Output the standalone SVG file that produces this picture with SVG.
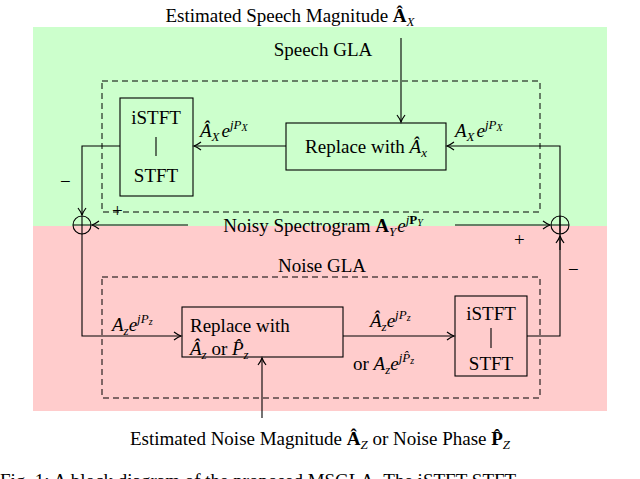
<svg xmlns="http://www.w3.org/2000/svg" width="640" height="479" viewBox="0 0 640 479">
<defs>
<marker id="ah" markerWidth="10" markerHeight="10" refX="8" refY="5" orient="auto" markerUnits="userSpaceOnUse">
<path d="M1,1 Q5,4 8,5 Q5,6 1,9" fill="none" stroke="#000" stroke-width="1.2"/>
</marker>
<style>
text{font-family:"Liberation Serif","Times New Roman",serif;font-size:19px;fill:#000}
.i{font-style:italic}
.b{font-weight:bold}
.s{font-size:13px}
.t{font-size:10px;font-style:italic}
.box{fill:none;stroke:#000;stroke-width:1.1}
.dash{fill:none;stroke:#000;stroke-width:1;stroke-dasharray:6,4}
.ln{fill:none;stroke:#000;stroke-width:1.1}
.ar{fill:none;stroke:#000;stroke-width:1.1;marker-end:url(#ah)}
</style>
</defs>
<rect x="33" y="27" width="574" height="199" fill="#ccffcc"/>
<rect x="33" y="226" width="574" height="185" fill="#ffcccc"/>
<text x="290" y="22" text-anchor="middle">Estimated Speech Magnitude <tspan class="b">Â</tspan><tspan class="i s" dy="4">X</tspan></text>
<text x="323" y="56" text-anchor="middle">Speech GLA</text>
<text x="322" y="272" text-anchor="middle">Noise GLA</text>
<rect class="dash" x="102" y="81" width="438" height="131"/>
<rect class="dash" x="102" y="277" width="438" height="121"/>
<g id="istft1"><rect class="box" x="120" y="98" width="73" height="98"/>
<text x="156" y="124" text-anchor="middle">iSTFT</text><path class="ln" d="M156,137V156"/><text x="156" y="182" text-anchor="middle">STFT</text></g>
<g id="replace1"><rect class="box" x="286" y="123" width="160" height="47"/>
<text x="366" y="153" text-anchor="middle">Replace with <tspan class="i">Â</tspan><tspan class="i s" dy="4">x</tspan></text></g>
<g id="replace2"><rect class="box" x="182" y="307" width="161" height="50"/>
<text x="190" y="332">Replace with</text>
<text x="190" y="355"><tspan class="i">Â</tspan><tspan class="i s" dy="4">z</tspan><tspan dy="-4"> or </tspan><tspan class="i">P̂</tspan><tspan class="i s" dy="4">z</tspan></text></g>
<g id="istft2"><rect class="box" x="455" y="296" width="72" height="80"/>
<text x="491" y="320" text-anchor="middle">iSTFT</text><path class="ln" d="M491,328V348"/><text x="491" y="370" text-anchor="middle">STFT</text></g>
<g id="sumL"><circle class="ln" cx="82" cy="225" r="9"/><path class="ln" d="M73,225H91M82,216V234"/></g>
<g id="sumR"><circle class="ln" cx="560" cy="225" r="9"/><path class="ln" d="M551,225H569M560,216V234"/></g>
<g id="connectors">
<path class="ar" d="M401,38V122"/>
<path class="ar" d="M286,146H194"/>
<path class="ar" d="M560,250V146H447"/>
<path class="ar" d="M120,146H82V215"/>
<path class="ar" d="M188,225H92"/>
<path class="ar" d="M455,225H550"/>
<path class="ar" d="M82,234V336H181"/>
<path class="ar" d="M343,336H454"/>
<path class="ar" d="M527,336H560V236"/>
<path class="ar" d="M262,418V358"/>
</g>
<text x="200" y="137"><tspan class="i">Â</tspan><tspan class="i s" dy="4">X</tspan><tspan class="i" dx="2" dy="-4">e</tspan><tspan class="i s" dy="-8">jP</tspan><tspan class="t" dy="2">X</tspan></text>
<text x="455" y="137"><tspan class="i">A</tspan><tspan class="i s" dy="4">X</tspan><tspan class="i" dx="2" dy="-4">e</tspan><tspan class="i s" dy="-8">jP</tspan><tspan class="t" dy="2">X</tspan></text>
<text x="60" y="188">−</text>
<text x="112" y="217">+</text>
<text x="514" y="246">+</text>
<text x="568" y="276">−</text>
<text x="323" y="232" text-anchor="middle">Noisy Spectrogram <tspan class="b">A</tspan><tspan class="i s" dy="4">Y</tspan><tspan class="i" dx="1" dy="-4">e</tspan><tspan class="i s" dy="-8">j</tspan><tspan class="b s">P</tspan><tspan class="t" dy="2">Y</tspan></text>
<text x="112" y="331"><tspan class="i">A</tspan><tspan class="i s" dy="4">z</tspan><tspan class="i" dy="-4">e</tspan><tspan class="i s" dy="-8">jP</tspan><tspan class="t" dy="2">z</tspan></text>
<text x="370" y="327"><tspan class="i">Â</tspan><tspan class="i s" dy="4">z</tspan><tspan class="i" dy="-4">e</tspan><tspan class="i s" dy="-8">jP</tspan><tspan class="t" dy="2">z</tspan></text>
<text x="353" y="370">or <tspan class="i">A</tspan><tspan class="i s" dy="4">z</tspan><tspan class="i" dy="-4">e</tspan><tspan class="i s" dy="-8">jP̂</tspan><tspan class="t" dy="2">z</tspan></text>
<text x="320" y="445" text-anchor="middle">Estimated Noise Magnitude <tspan class="b">Â</tspan><tspan class="i s" dy="4">Z</tspan><tspan dy="-4"> or Noise Phase </tspan><tspan class="b">P̂</tspan><tspan class="i s" dy="4">Z</tspan></text>
<text x="0" y="487">Fig. 1: A block diagram of the proposed MSGLA. The iSTFT-STFT</text>
</svg>
